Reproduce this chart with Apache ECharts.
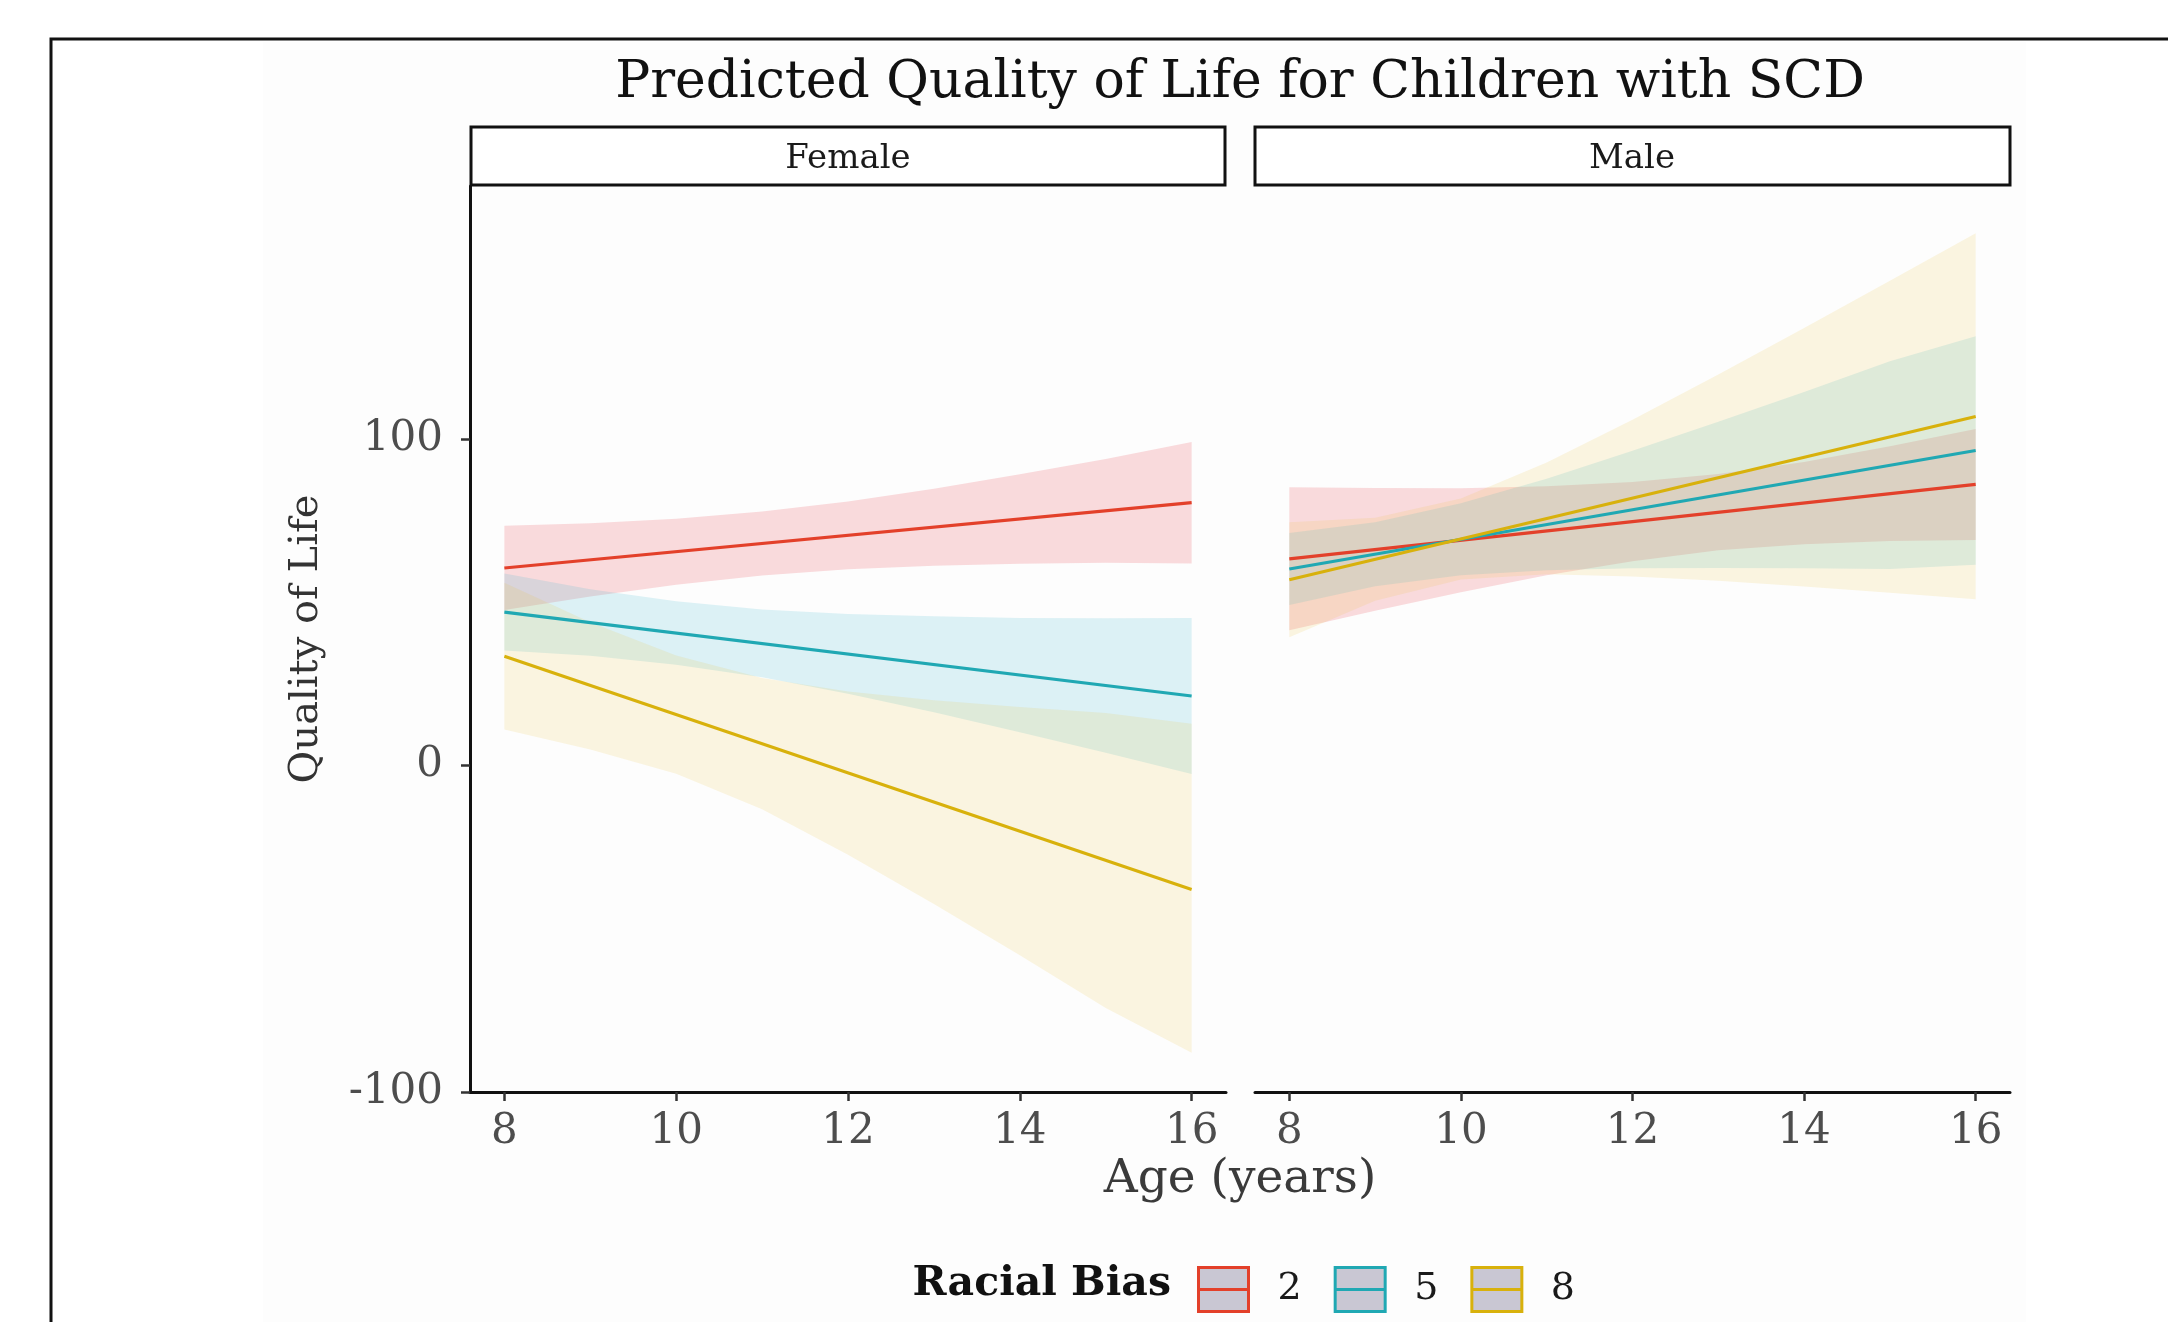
<!DOCTYPE html>
<html>

<head>
  <meta charset="utf-8">
  <title>Predicted Quality of Life for Children with SCD</title>
  <script src="https://cdn.jsdelivr.net/npm/echarts@6/dist/echarts.min.js"></script>
</head>

<body style="margin:0; background:#fff;">
  <div id="main" style="width: 2168px; height: 1322px;"></div>
  <script type="text/javascript">
    const ages = [8, 9, 10, 11, 12, 13, 14, 15, 16];
    // fitted lines are straight, so only the two ends are needed
    const lineAges = [8, 16];
    const groups = ['2', '5', '8'];
    const xTicks = [8, 10, 12, 14, 16];
    const yTicks = [-100, 0, 100];

    // Female panel
    const femaleLine2 = [60.5, 80.5];
    const femaleLine5 = [47.0, 21.3];
    const femaleLine8 = [33.5, -38.0];
    const femaleLow2 = [47.6, 51.8, 55.4, 58.2, 60.1, 61.2, 61.8, 62.1, 61.9];
    const femaleUp2 = [73.4, 74.2, 75.6, 77.8, 80.9, 84.8, 89.2, 93.9, 99.1];
    const femaleLow5 = [35.2, 33.6, 30.9, 27.0, 22.0, 16.3, 10.2, 3.9, -2.6];
    const femaleUp5 = [58.8, 54.0, 50.3, 47.8, 46.4, 45.7, 45.2, 45.1, 45.2];
    const femaleLow8 = [11.0, 4.9, -2.5, -13.4, -27.3, -42.4, -58.1, -74.3, -88.0];
    const femaleUp8 = [56.0, 43.9, 33.7, 26.8, 22.7, 20.0, 17.9, 16.1, 12.8];

    // Male panel
    const maleLine2 = [63.3, 86.1];
    const maleLine5 = [60.2, 96.5];
    const maleLine8 = [56.9, 106.9];
    const maleLow2 = [41.4, 47.4, 53.1, 58.3, 62.6, 65.9, 67.8, 68.8, 69.1];
    const maleUp2 = [85.2, 85.0, 84.9, 85.5, 86.8, 89.3, 93.0, 97.8, 103.1];
    const maleLow5 = [49.2, 54.9, 58.3, 59.8, 60.4, 60.5, 60.4, 60.2, 61.5];
    const maleUp5 = [71.2, 74.5, 80.3, 87.8, 96.4, 105.3, 114.4, 123.8, 131.5];
    const maleLow8 = [39.3, 50.5, 57.0, 58.6, 57.9, 56.6, 54.8, 52.9, 50.9];
    const maleUp8 = [74.5, 75.9, 81.8, 92.8, 105.9, 119.8, 134.0, 148.5, 163.0];

    const FONT = 'DejaVu Serif';
    const lineColors = ['#E3402A', '#20A8B3', '#D8B10C'];
    const bandColors = ['rgba(236,90,100,0.21)', 'rgba(60,185,210,0.17)', 'rgba(236,196,60,0.15)'];

    // ribbon: one polygon per band, placed with the grid's own scales
    function bandSeries(lower, upper, color, axis) {
      return {
        type: 'custom', xAxisIndex: axis, yAxisIndex: axis, silent: true, z: 1,
        encode: { x: 0, y: [1, 2] },
        data: ages.map((a, i) => [a, lower[i], upper[i]]),
        renderItem: function (params, api) {
          if (params.dataIndex !== 0) return;
          const pts = [];
          ages.forEach((a, i) => pts.push(api.coord([a, upper[i]])));
          for (let i = ages.length - 1; i >= 0; i--) pts.push(api.coord([ages[i], lower[i]]));
          return { type: 'polygon', shape: { points: pts }, style: { fill: color } };
        }
      };
    }

    function lineSeries(name, vals, color, axis) {
      return {
        type: 'line', name: name, xAxisIndex: axis, yAxisIndex: axis,
        symbol: 'none', z: 3, itemStyle: { color: color },
        lineStyle: { color: color, width: 3.2 },
        data: lineAges.map((a, i) => [a, vals[i]])
      };
    }

    const bands = [
      [femaleLow2, femaleUp2, maleLow2, maleUp2],
      [femaleLow5, femaleUp5, maleLow5, maleUp5],
      [femaleLow8, femaleUp8, maleLow8, maleUp8]
    ];
    const lines = [
      [femaleLine2, maleLine2],
      [femaleLine5, maleLine5],
      [femaleLine8, maleLine8]
    ];

    const series = [];
    groups.forEach((g, k) => {
      series.push(bandSeries(bands[k][0], bands[k][1], bandColors[k], 0));
      series.push(bandSeries(bands[k][2], bands[k][3], bandColors[k], 1));
    });
    groups.forEach((g, k) => {
      series.push(lineSeries(g, lines[k][0], lineColors[k], 0));
      series.push(lineSeries(g, lines[k][1], lineColors[k], 1));
    });

    function xAxis(idx) {
      return {
        type: 'value', gridIndex: idx, min: 7.6, max: 16.4,
        splitLine: { show: false },
        axisLine: { onZero: false, lineStyle: { color: '#111', width: 3 } },
        axisTick: { customValues: xTicks, length: 9, lineStyle: { color: '#333', width: 2.5 } },
        axisLabel: { customValues: xTicks, margin: 19, fontFamily: FONT, fontSize: 42, color: '#4d4d4d' }
      };
    }

    const keyIcon = 'path://M0,0H50V44H0Z M0,22H50';

    var myChart = echarts.init(document.getElementById('main'));
    myChart.setOption({
      animation: false,
      backgroundColor: '#fff',
      grid: [
        { left: 470, top: 186, width: 756, height: 906 },
        { left: 1255, top: 186, width: 755, height: 906 }
      ],
      xAxis: [xAxis(0), xAxis(1)],
      yAxis: [{
        type: 'value', gridIndex: 0, min: -100, max: 177.5,
        splitLine: { show: false },
        axisLine: { show: true, onZero: false, lineStyle: { color: '#111', width: 3 } },
        axisTick: { customValues: yTicks, length: 9, lineStyle: { color: '#333', width: 2.5 } },
        axisLabel: { customValues: yTicks, margin: 27, fontFamily: FONT, fontSize: 42, color: '#4d4d4d' },
        name: 'Quality of Life', nameLocation: 'middle', nameGap: 143,
        nameTextStyle: { fontFamily: FONT, fontSize: 40, color: '#333' }
      }, {
        type: 'value', gridIndex: 1, min: -100, max: 177.5,
        splitLine: { show: false },
        axisLine: { show: false }, axisTick: { show: false }, axisLabel: { show: false }
      }],
      legend: {
        left: 1192, top: 1261, orient: 'horizontal',
        itemWidth: 50, itemHeight: 44, itemGap: 32, selectedMode: false,
        textStyle: { fontFamily: FONT, fontSize: 38, color: '#1a1a1a', padding: [0, 0, 0, 24] },
        data: groups.map((g, k) => ({
          name: g, icon: keyIcon,
          itemStyle: { color: '#c9c7d3', borderColor: lineColors[k], borderWidth: 3 }
        }))
      },
      graphic: [
        { type: 'rect', z: -5, silent: true, shape: { x: 263, y: 42, width: 1763, height: 1280 }, style: { fill: '#fdfdfd' } },
        { type: 'rect', z: 50, silent: true, shape: { x: 51, y: 39, width: 2200, height: 1400 }, style: { fill: 'none', stroke: '#111', lineWidth: 3 } },
        { type: 'text', x: 1240, y: 83, style: { text: 'Predicted Quality of Life for Children with SCD', fontFamily: FONT, fontSize: 52, fill: '#111', align: 'center', verticalAlign: 'middle' } },
        { type: 'rect', z: 10, shape: { x: 471, y: 127, width: 754, height: 58 }, style: { fill: '#fff', stroke: '#111', lineWidth: 3 } },
        { type: 'rect', z: 10, shape: { x: 1255, y: 127, width: 755, height: 58 }, style: { fill: '#fff', stroke: '#111', lineWidth: 3 } },
        { type: 'text', z: 11, x: 848, y: 159, style: { text: 'Female', fontFamily: FONT, fontSize: 34, fill: '#1a1a1a', align: 'center', verticalAlign: 'middle' } },
        { type: 'text', z: 11, x: 1632, y: 159, style: { text: 'Male', fontFamily: FONT, fontSize: 34, fill: '#1a1a1a', align: 'center', verticalAlign: 'middle' } },
        { type: 'text', x: 1240, y: 1180, style: { text: 'Age (years)', fontFamily: FONT, fontSize: 47, fill: '#3a3a3a', align: 'center', verticalAlign: 'middle' } },
        { type: 'text', x: 1171, y: 1284, style: { text: 'Racial Bias', fontFamily: FONT, fontWeight: 'bold', fontSize: 41, fill: '#111', align: 'right', verticalAlign: 'middle' } }
      ],
      series: series
    });
  </script>
</body>

</html>
